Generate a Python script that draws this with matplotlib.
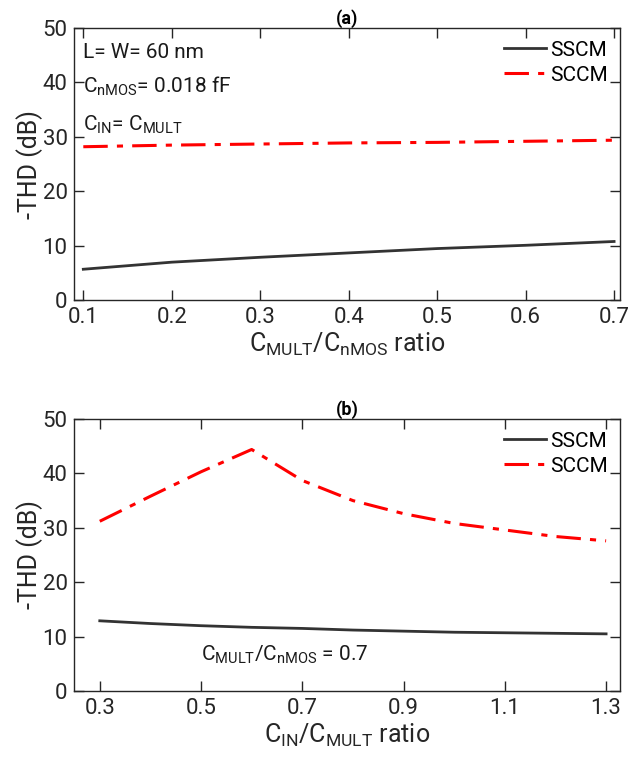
import matplotlib
matplotlib.use('Agg')
import matplotlib.pyplot as plt

plt.rcParams['font.family'] = ['Roboto', 'DejaVu Sans']
plt.rcParams['mathtext.fontset'] = 'custom'
plt.rcParams['mathtext.rm'] = 'Roboto'

# panel (a): THD vs C_MULT/C_nMOS
ratio_a = [0.1, 0.2, 0.3, 0.4, 0.5, 0.6, 0.7]
sscm_a = [5.7, 7.0, 7.9, 8.7, 9.5, 10.1, 10.8]
sccm_a = [28.2, 28.5, 28.7, 28.9, 29.0, 29.2, 29.4]

# panel (b): THD vs C_IN/C_MULT
ratio_b = [0.3, 0.4, 0.5, 0.6, 0.7, 0.8, 0.9, 1.0, 1.1, 1.2, 1.3]
sscm_b = [12.9, 12.4, 12.0, 11.7, 11.5, 11.2, 11.0, 10.8, 10.7, 10.6, 10.5]
sccm_b = [31.2, 35.8, 40.3, 44.4, 38.7, 35.0, 32.6, 30.8, 29.6, 28.4, 27.6]

xt_a = [0.1, 0.2, 0.3, 0.4, 0.5, 0.6, 0.7]
xt_b = [0.3, 0.5, 0.7, 0.9, 1.1, 1.3]
yt = [0, 10, 20, 30, 40, 50]

fig = plt.figure(figsize=(6.31, 7.68), dpi=100)
ax1 = fig.add_axes([0.118, 0.609, 0.865, 0.3545])
ax2 = fig.add_axes([0.118, 0.1003, 0.865, 0.3541])

def style(ax, xlim, xticks, xlabel, title):
    ax.set_xlim(*xlim)
    ax.set_ylim(0, 50)
    ax.set_xticks(xticks)
    ax.set_xticklabels([f'{t:g}' for t in xticks])
    ax.set_yticks(yt)
    ax.tick_params(direction='in', length=7, width=1, top=True, right=True,
                   labelsize=16, colors='#262626', pad=5)
    for s in ax.spines.values():
        s.set_color('#262626')
        s.set_linewidth(1)
    ax.set_ylabel('-THD (dB)', fontsize=18, color='#262626', labelpad=0)
    ax.set_xlabel(xlabel, fontsize=18, color='#262626', labelpad=2)
    ax.set_title(title, fontsize=13, fontweight='bold', pad=3)
    ax.legend(loc='upper right', frameon=False, fontsize=15, handlelength=2.0,
              handletextpad=0.2, borderaxespad=0.2, labelspacing=0.3)

ax1.plot(ratio_a, sscm_a, color='#333333', lw=2, label='SSCM')
ax1.plot(ratio_a, sccm_a, color='#ff0000', lw=2.2, dashes=(8, 3, 2, 3), label='SCCM')
style(ax1, (0.09, 0.707), xt_a, r'$\mathregular{C_{MULT}/C_{nMOS}}$ ratio', '(a)')
ax1.text(0.1, 44.5, 'L= W= 60 nm', fontsize=15, color='#1a1a1a')
ax1.text(0.1, 38.2, r'$\mathregular{C_{nMOS}}$= 0.018 fF', fontsize=15, color='#1a1a1a')
ax1.text(0.1, 31.2, r'$\mathregular{C_{IN}}$= $\mathregular{C_{MULT}}$', fontsize=15, color='#1a1a1a')

ax2.plot(ratio_b, sscm_b, color='#333333', lw=2, label='SSCM')
ax2.plot(ratio_b, sccm_b, color='#ff0000', lw=2.2, dashes=(8, 3, 2, 3), label='SCCM')
style(ax2, (0.25, 1.328), xt_b, r'$\mathregular{C_{IN}/C_{MULT}}$ ratio', '(b)')
ax2.text(0.5, 5.5, r'$\mathregular{C_{MULT}/C_{nMOS}}$ = 0.7', fontsize=15, color='#1a1a1a')

fig.savefig('out.png', dpi=100)
